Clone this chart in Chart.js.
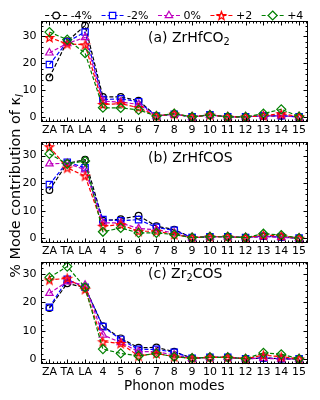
<!DOCTYPE html>
<html><head><meta charset="utf-8">
<script src="https://cdn.jsdelivr.net/npm/chart.js@4.4.1/dist/chart.umd.min.js"></script>
<style>
html,body{margin:0;padding:0;background:#fff;}
#wrap{position:relative;width:320px;height:400px;}
#wrap canvas{position:absolute;left:0;top:0;}
</style></head>
<body>
<div id="wrap">
<canvas id="ca" width="320" height="400"></canvas>
<canvas id="cb" width="320" height="400"></canvas>
<canvas id="cc" width="320" height="400"></canvas>
</div>
<script>
// ---------- data ----------
const categories = ['ZA','TA','LA','4','5','6','7','8','9','10','11','12','13','14','15'];
const seriesLabels = ['-4%','-2%','0%','+2','+4'];
const yTickValues = [0,10,20,30];

// (a) ZrHfCO2
const aMinus4 = [14.8, 28.2, 34.0, 7.6, 7.6, 6.2, 0.5, 1.2, 0.2, 0.9, 0.2, 0.2, 0.6, 0.6, 0.2];
const aMinus2 = [19.6, 28.0, 31.6, 6.6, 6.9, 5.8, 0.5, 1.2, 0.2, 1.0, 0.2, 0.2, 0.6, 0.6, 0.2];
const aZero   = [23.9, 27.4, 29.6, 6.0, 5.7, 4.8, 0.5, 1.2, 0.2, 0.9, 0.2, 0.2, 0.6, 0.6, 0.2];
const aPlus2  = [29.6, 27.2, 26.9, 4.8, 5.1, 3.6, 0.5, 1.3, 0.2, 0.9, 0.2, 0.2, 0.6, 1.4, 0.3];
const aPlus4  = [31.6, 28.8, 23.8, 3.6, 3.5, 2.8, 0.5, 1.4, 0.2, 0.9, 0.2, 0.2, 1.4, 3.0, 0.3];

// (b) ZrHfCOS
const bMinus4 = [17.5, 27.2, 28.5, 6.4, 7.0, 8.2, 4.4, 3.2, 0.3, 0.6, 0.6, 0.3, 0.8, 0.5, 0.1];
const bMinus2 = [19.5, 27.6, 25.6, 6.8, 6.4, 6.8, 4.0, 2.9, 0.3, 0.6, 0.6, 0.3, 0.8, 0.5, 0.1];
const bZero   = [27.0, 27.2, 24.9, 5.6, 5.6, 3.6, 3.1, 2.0, 0.3, 0.6, 0.6, 0.3, 0.7, 0.4, 0.1];
const bPlus2  = [33.2, 25.5, 22.6, 4.4, 5.0, 2.6, 2.6, 1.4, 0.3, 0.6, 0.6, 0.3, 1.2, 1.0, 0.1];
const bPlus4  = [30.6, 27.0, 28.0, 2.4, 3.8, 2.0, 2.0, 1.4, 0.3, 0.6, 0.6, 0.3, 1.7, 1.2, 0.1];

// (c) Zr2COS
const cMinus4 = [18.0, 26.7, 25.2, 11.7, 7.4, 4.1, 4.2, 2.7, 0.4, 0.7, 0.7, 0.2, 0.5, 0.2, 0.2];
const cMinus2 = [18.3, 28.1, 25.3, 11.5, 7.0, 3.5, 3.5, 2.5, 0.4, 0.7, 0.7, 0.2, 0.5, 0.2, 0.2];
const cZero   = [23.2, 27.3, 26.1, 8.6, 5.9, 2.7, 2.7, 1.5, 0.4, 0.7, 0.7, 0.2, 0.4, 0.1, 0.2];
const cPlus2  = [27.9, 28.5, 24.6, 6.2, 5.6, 1.2, 2.1, 0.9, 0.4, 0.7, 0.7, 0.2, 1.5, 0.9, 0.2];
const cPlus4  = [28.8, 32.6, 25.3, 3.6, 2.1, 1.2, 2.1, 0.9, 0.4, 0.7, 0.7, 0.2, 2.3, 1.8, 0.2];

// ---------- styles ----------
const FONT = "'DejaVu Sans', sans-serif";
const seriesColors = ['#000000','#0000ff','#bf00bf','#ff0000','#008000'];
const seriesShapes = ['circle','rect','triangle','star','rectRot'];
const seriesRadius = [3.3, 4.5, 4.3, 4.3, 4.5];

function makeStar(color, r){
  const s = Math.ceil(r*2+4);
  const c = document.createElement('canvas');
  c.width = s; c.height = s;
  const x = c.getContext('2d');
  x.beginPath();
  for(let i=0;i<10;i++){
    const ang = -Math.PI/2 + i*Math.PI/5;
    const rr = (i%2) ? r*0.42 : r;
    x.lineTo(s/2 + rr*Math.cos(ang), s/2 + 0.5 + rr*Math.sin(ang));
  }
  x.closePath();
  x.strokeStyle = color; x.lineWidth = 1.3; x.lineJoin='miter';
  x.stroke();
  return c;
}
const starImage = makeStar('#ff0000', 4.3);

function pointStyleFor(i){ return seriesShapes[i]==='star' ? starImage : seriesShapes[i]; }

function buildDatasets(arrs){
  return arrs.map((vals,i)=>({
    label: seriesLabels[i],
    data: vals,
    borderColor: seriesColors[i],
    backgroundColor: 'rgba(0,0,0,0)',
    borderWidth: 1.2,
    borderDash: [4,2],
    pointStyle: pointStyleFor(i),
    pointRadius: seriesRadius[i],
    pointBorderWidth: 1.2,
    pointBorderColor: seriesColors[i],
    pointBackgroundColor: 'rgba(0,0,0,0)',
    tension: 0,
    order: arrs.length - 1 - i,
    clip: false
  }));
}

// marker drawing for legend
function drawMarker(ctx, i, x, y){
  const r = seriesRadius[i];
  const shape = seriesShapes[i];
  ctx.save();
  ctx.setLineDash([]);
  ctx.strokeStyle = seriesColors[i];
  ctx.lineWidth = 1.2;
  ctx.fillStyle = '#fff';
  ctx.beginPath();
  if(shape==='circle'){ ctx.arc(x,y,r,0,Math.PI*2); ctx.fill(); ctx.stroke(); }
  else if(shape==='rect'){ const s=r*Math.SQRT1_2; ctx.rect(x-s,y-s,2*s,2*s); ctx.fill(); ctx.stroke(); }
  else if(shape==='triangle'){
    for(let k=0;k<3;k++){ const a=-Math.PI/2+k*2*Math.PI/3; ctx.lineTo(x+r*Math.cos(a), y+r*Math.sin(a)); }
    ctx.closePath(); ctx.fill(); ctx.stroke();
  }
  else if(shape==='rectRot'){ ctx.moveTo(x,y-r); ctx.lineTo(x+r,y); ctx.lineTo(x,y+r); ctx.lineTo(x-r,y); ctx.closePath(); ctx.fill(); ctx.stroke(); }
  else if(shape==='star'){ ctx.drawImage(starImage, x-starImage.width/2, y-starImage.height/2); }
  ctx.restore();
}

// draw text with subscript parts
function drawRich(ctx, parts, x, y, size){
  let cx = x;
  ctx.textBaseline = 'alphabetic';
  ctx.textAlign = 'left';
  for(const p of parts){
    const fs = p.sub ? size*0.7 : size;
    ctx.font = (p.italic?'italic ':'') + fs + 'px ' + FONT;
    ctx.fillText(p.t, cx, y + (p.sub ? size*0.22 : 0));
    cx += ctx.measureText(p.t).width;
  }
  return cx - x;
}
function richWidth(ctx, parts, size){
  let w=0;
  for(const p of parts){
    const fs = p.sub ? size*0.7 : size;
    ctx.font = (p.italic?'italic ':'') + fs + 'px ' + FONT;
    w += ctx.measureText(p.t).width;
  }
  return w;
}

const framePlugin = {
  id: 'frameTicks',
  afterDraw(chart, args, opts){
    const ctx = chart.ctx;
    const {left, right, top, bottom} = chart.chartArea;
    const xs = chart.scales.x, ys = chart.scales.y;
    ctx.save();
    ctx.strokeStyle = '#000';
    ctx.lineWidth = 1;
    const L = Math.round(left)+0.5, R = Math.round(right)-0.5, T = Math.round(top)+0.5, B = Math.round(bottom)-0.5;
    ctx.strokeRect(L, T, R-L, B-T);
    ctx.beginPath();
    for(let i=0;i<categories.length;i++){
      const px = Math.round(xs.getPixelForValue(i))+0.5;
      ctx.moveTo(px,B); ctx.lineTo(px,B-4);
      ctx.moveTo(px,T); ctx.lineTo(px,T+4);
    }
    for(let v=-0.4; v<categories.length-0.5; v+=0.2){
      if(Math.abs(v-Math.round(v))<1e-6) continue;
      const px = Math.round(xs.getPixelForValue(v))+0.5;
      ctx.moveTo(px,B); ctx.lineTo(px,B-2);
      ctx.moveTo(px,T); ctx.lineTo(px,T+2);
    }
    for(let v=0; v<=ys.max; v+=2){
      const py = Math.round(ys.getPixelForValue(v))+0.5;
      const len = (v%10===0)?4:2;
      ctx.moveTo(L,py); ctx.lineTo(L+len,py);
      ctx.moveTo(R,py); ctx.lineTo(R-len,py);
    }
    ctx.stroke();
    if(opts.label){
      ctx.fillStyle = '#000';
      drawRich(ctx, opts.label, opts.labelX, top + opts.labelDy, 14);
    }
    ctx.restore();
  }
};

const legendPlugin = {
  id: 'lineLegend',
  afterDraw(chart, args, opts){
    if(!opts.show) return;
    const ctx = chart.ctx;
    const {left, right} = chart.chartArea;
    const y = opts.y;
    ctx.save();
    ctx.font = '11px ' + FONT;
    const handle = 22, gap = 3.5, sep = 9.5;
    const widths = seriesLabels.map(s=>ctx.measureText(s).width);
    let total = 0;
    widths.forEach((w,i)=>{ total += handle + gap + w + (i<widths.length-1?sep:0); });
    let x = (left+right)/2 - total/2;
    seriesLabels.forEach((s,i)=>{
      ctx.strokeStyle = seriesColors[i];
      ctx.lineWidth = 1.2;
      ctx.setLineDash([4,2]);
      ctx.beginPath(); ctx.moveTo(x, y+0.5); ctx.lineTo(x+handle, y+0.5); ctx.stroke();
      drawMarker(ctx, i, x+handle/2, y+0.5);
      ctx.fillStyle = '#000';
      ctx.textAlign='left'; ctx.textBaseline='middle';
      ctx.font = '11px ' + FONT;
      ctx.fillText(s, x+handle+gap, y+1);
      x += handle + gap + widths[i] + sep;
    });
    ctx.restore();
  }
};

const axisTitlesPlugin = {
  id: 'axisTitles',
  afterDraw(chart, args, opts){
    if(!opts.show) return;
    const ctx = chart.ctx;
    const {left, right} = chart.chartArea;
    ctx.save();
    ctx.fillStyle = '#000';
    ctx.font = '13.6px ' + FONT;
    ctx.textAlign = 'center'; ctx.textBaseline='middle';
    ctx.fillText('Phonon modes', (left+right)/2, opts.xTitleY);
    const parts = [{t:'% Mode contribution of \u03BA'},{t:'l', sub:true, italic:true}];
    const size = 14.4;
    const w = richWidth(ctx, parts, size);
    ctx.translate(opts.yTitleX, opts.yTitleY);
    ctx.rotate(-Math.PI/2);
    drawRich(ctx, parts, -w/2, size*0.36, size);
    ctx.restore();
  }
};

function makeChart(id, arrs, cfg){
  const areaTop = cfg.top, areaBottom = cfg.bottom;
  const xAxisH = 16;
  return new Chart(document.getElementById(id), {
    type: 'line',
    data: { labels: categories, datasets: buildDatasets(arrs) },
    plugins: [framePlugin, legendPlugin, axisTitlesPlugin],
    options: {
      responsive: false,
      devicePixelRatio: 1,
      animation: false,
      events: [],
      layout: { padding: { left: 0, right: 12, top: areaTop, bottom: 400 - areaBottom - xAxisH } },
      plugins: {
        legend: { display: false },
        tooltip: { enabled: false },
        title: { display: false },
        frameTicks: { label: cfg.label, labelX: 148, labelDy: cfg.labelDy },
        lineLegend: { show: !!cfg.legend, y: 15 },
        axisTitles: { show: !!cfg.titles, xTitleY: 386, yTitleX: 15, yTitleY: 186 }
      },
      scales: {
        x: {
          type: 'category',
          offset: true,
          grid: { display: false, drawTicks: false },
          border: { display: false },
          ticks: { font: { family: FONT, size: 11 }, color: '#000', padding: 2, maxRotation: 0, autoSkip: false },
          afterFit(s){ s.height = xAxisH; }
        },
        y: {
          min: cfg.ymin, max: cfg.ymax,
          grid: { display: false, drawTicks: false },
          border: { display: false },
          ticks: { stepSize: 10, includeBounds: false, font: { family: FONT, size: 11 }, color: '#000', padding: 4 },
          afterBuildTicks(s){ s.ticks = yTickValues.map(v=>({value:v})); },
          afterFit(s){ s.width = 40.5; }
        }
      }
    }
  });
}

makeChart('ca', [aMinus4, aMinus2, aZero, aPlus2, aPlus4], {
  top: 21, bottom: 122, ymin: -1.7, ymax: 35.7, legend: true,
  label: [{t:'(a) ZrHfCO'},{t:'2',sub:true}], labelDy: 21
});
makeChart('cb', [bMinus4, bMinus2, bZero, bPlus2, bPlus4], {
  top: 142, bottom: 243, ymin: -1.66, ymax: 34.9,
  label: [{t:'(b) ZrHfCOS'}], labelDy: 20
});
makeChart('cc', [cMinus4, cMinus2, cZero, cPlus2, cPlus4], {
  top: 262, bottom: 364, ymin: -1.63, ymax: 34.2, titles: true,
  label: [{t:'(c) Zr'},{t:'2',sub:true},{t:'COS'}], labelDy: 16
});
</script>
</body></html>
